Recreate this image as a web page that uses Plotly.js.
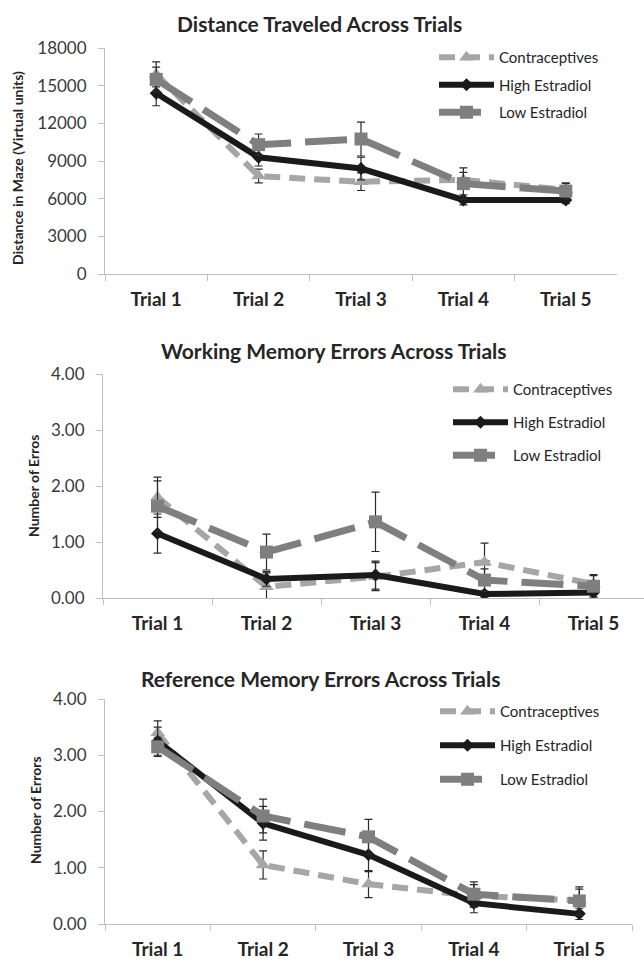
<!DOCTYPE html>
<html>
<head>
<meta charset="utf-8">
<script src="https://cdn.plot.ly/plotly-3.0.1.min.js"></script>
<style>html,body{margin:0;padding:0;background:#fff;}#chart{width:644px;height:961px;}</style>
</head>
<body>
<div id="chart"></div>
<script>
// ---- data ----
const trials = ['Trial 1', 'Trial 2', 'Trial 3', 'Trial 4', 'Trial 5'];
const seriesNames = ['Contraceptives', 'High Estradiol', 'Low Estradiol'];

const titles = ['Distance Traveled Across Trials', 'Working Memory Errors Across Trials', 'Reference Memory Errors Across Trials'];
const yTitles = ['Distance in Maze (Virtual units)', 'Number of Erros', 'Number of Errors'];

const distContra = [15900, 7800, 7350, 7500, 6700];
const distContraErr = [1000, 550, 700, 600, 500];
const distHigh = [14400, 9300, 8400, 5900, 5900];
const distHighErr = [1000, 700, 900, 400, 300];
const distLow = [15500, 10300, 10750, 7200, 6600];
const distLowErr = [970, 850, 1350, 1250, 650];

const wmContra = [1.80, 0.20, 0.38, 0.64, 0.25];
const wmContraErr = [0.36, 0.25, 0.25, 0.34, 0.15];
const wmHigh = [1.15, 0.34, 0.41, 0.07, 0.10];
const wmHighErr = [0.35, 0.13, 0.25, 0.05, 0.08];
const wmLow = [1.64, 0.82, 1.36, 0.32, 0.21];
const wmLowErr = [0.45, 0.32, 0.53, 0.20, 0.21];

const rmContra = [3.40, 1.05, 0.71, 0.50, 0.42];
const rmContraErr = [0.21, 0.25, 0.24, 0.20, 0.20];
const rmHigh = [3.25, 1.79, 1.23, 0.37, 0.18];
const rmHighErr = [0.25, 0.30, 0.30, 0.17, 0.10];
const rmLow = [3.15, 1.92, 1.55, 0.53, 0.41];
const rmLowErr = [0.17, 0.30, 0.31, 0.22, 0.25];

// ---- styles ----
const W = 644, H = 961;
const FONT = 'Lato, "Open Sans", sans-serif';
const styles = [
  {color: '#a6a6a6', width: 6, dash: '16px,9px', symbol: 'triangle-up', size: 13},
  {color: '#1a1a1a', width: 6, dash: 'solid', symbol: 'diamond', size: 10},
  {color: '#7f7f7f', width: 7, dash: '42px,14px', symbol: 'square', size: 13}
];
const panels = [
  {vals: [distContra, distHigh, distLow], errs: [distContraErr, distHighErr, distLowErr]},
  {vals: [wmContra, wmHigh, wmLow], errs: [wmContraErr, wmHighErr, wmLowErr]},
  {vals: [rmContra, rmHigh, rmLow], errs: [rmContraErr, rmHighErr, rmLowErr]}
];

const traces = [];
panels.forEach((p, pi) => {
  const sfx = pi === 0 ? '' : String(pi + 1);
  p.vals.forEach((v, si) => {
    const st = styles[si];
    traces.push({
      type: 'scatter', mode: 'lines+markers',
      x: trials, y: v, name: seriesNames[si],
      xaxis: 'x' + sfx, yaxis: 'y' + sfx,
      legend: 'legend' + sfx, legendgroup: 'g' + pi + si,
      line: {color: st.color, width: st.width, dash: st.dash},
      marker: {color: st.color, symbol: st.symbol, size: st.size},
      error_y: {type: 'data', array: p.errs[si], visible: true, color: '#2a2a2a', thickness: 1.2, width: 4},
      hoverinfo: 'x+y+name'
    });
  });
});

function px2x(px) { return px / W; }
function px2y(py) { return 1 - py / H; }

// plot area pixel boxes
const boxes = [
  {x0: 105, x1: 617, yb: 274, yt: 48, range: [0, 18000], dtick: 3000, fmt: 'd', xr: [-0.5, 4.5]},
  {x0: 103, x1: 644, yb: 598, yt: 374, range: [0, 4], dtick: 1, fmt: '.2f', xr: [-0.5, 4.463]},
  {x0: 105, x1: 632, yb: 924, yt: 699, range: [0, 4], dtick: 1, fmt: '.2f', xr: [-0.5, 4.5]}
];

const layout = {
  width: W, height: H,
  margin: {l: 0, r: 0, t: 0, b: 0},
  paper_bgcolor: '#ffffff', plot_bgcolor: 'rgba(0,0,0,0)',
  font: {family: FONT, color: '#262626'},
  showlegend: true,
  annotations: []
};

const axisLine = '#bfbfbf';
boxes.forEach((b, i) => {
  const sfx = i === 0 ? '' : String(i + 1);
  layout['xaxis' + sfx] = {
    type: 'category', categoryorder: 'array', categoryarray: trials,
    domain: [px2x(b.x0), px2x(b.x1)], range: b.xr,
    anchor: 'y' + sfx, showline: true, linecolor: axisLine, linewidth: 1,
    ticks: 'outside', tickson: 'boundaries', ticklen: 6, tickcolor: axisLine,
    ticklabelstandoff: 8,
    showgrid: false, zeroline: false,
    tickfont: {family: FONT, size: 19, color: '#262626', weight: 'bold'},
    fixedrange: true
  };
  layout['yaxis' + sfx] = {
    domain: [px2y(b.yb), px2y(b.yt)], range: b.range, dtick: b.dtick, tick0: 0,
    tickformat: b.fmt, anchor: 'x' + sfx,
    showline: true, linecolor: axisLine, linewidth: 1,
    ticks: 'outside', ticklen: 6, tickcolor: axisLine,
    ticklabelstandoff: 8,
    showgrid: false, zeroline: false,
    tickfont: {family: FONT, size: 17, color: '#3a3a3a'},
    fixedrange: true
  };
});

// legends
const legendPos = [
  {x: 434, y: 41, gap: 5},
  {x: 448, y: 373, gap: 10.5},
  {x: 435, y: 695, gap: 11.5}
];
legendPos.forEach((l, i) => {
  const key = i === 0 ? 'legend' : 'legend' + (i + 1);
  layout[key] = {
    x: px2x(l.x), y: px2y(l.y), xanchor: 'left', yanchor: 'top',
    bgcolor: 'rgba(0,0,0,0)', borderwidth: 0,
    font: {family: FONT, size: 15, color: '#262626'},
    traceorder: 'grouped', tracegroupgap: l.gap, itemwidth: 55
  };
});

// titles
const titlePos = [{x: 319, y: 23}, {x: 334, y: 350}, {x: 320, y: 678}];
titles.forEach((t, i) => {
  layout.annotations.push({
    text: t, xref: 'paper', yref: 'paper', x: px2x(titlePos[i].x), y: px2y(titlePos[i].y),
    xanchor: 'center', yanchor: 'middle', showarrow: false,
    font: {family: FONT, size: 21, color: '#262626', weight: 'bold'}
  });
});
const yTitlePos = [{x: 17, y: 168}, {x: 33, y: 486}, {x: 35, y: 810}];
yTitles.forEach((t, i) => {
  layout.annotations.push({
    text: t, xref: 'paper', yref: 'paper', x: px2x(yTitlePos[i].x), y: px2y(yTitlePos[i].y),
    xanchor: 'center', yanchor: 'middle', showarrow: false, textangle: -90,
    font: {family: FONT, size: 14, color: '#262626', weight: 'bold'}
  });
});

Plotly.newPlot('chart', traces, layout, {displayModeBar: false, staticPlot: true});
</script>
</body>
</html>
